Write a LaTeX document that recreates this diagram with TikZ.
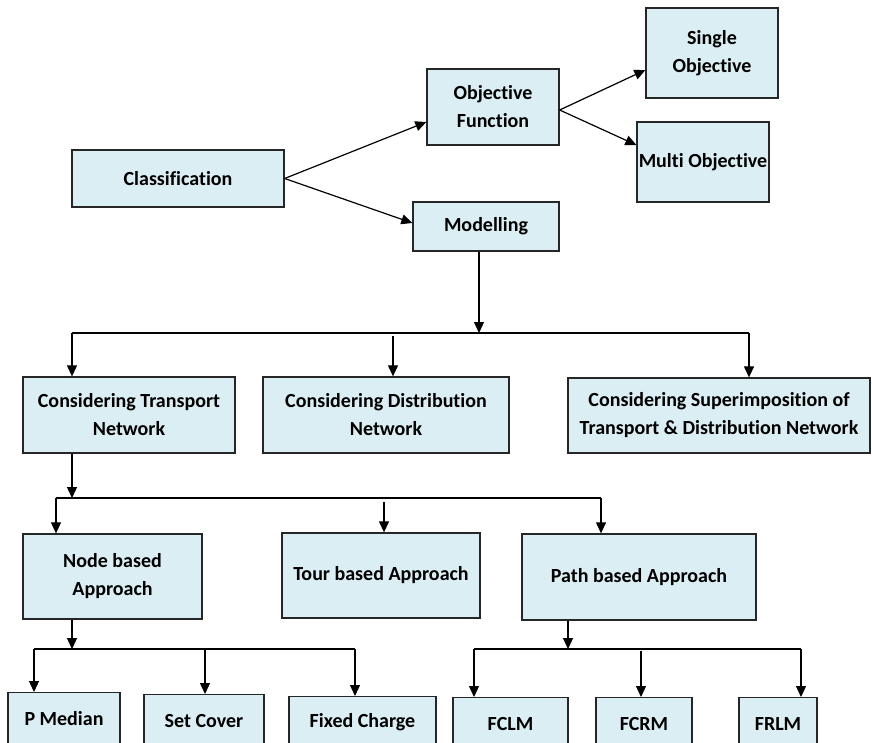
\documentclass[tikz,border=0pt]{standalone}
\usepackage{fontspec}
\setmainfont[Ligatures=NoCommon]{Carlito}
\usetikzlibrary{arrows.meta}
\definecolor{boxblue}{HTML}{DAEEF3}
\begin{document}
\begin{tikzpicture}[x=1pt,y=-1pt]
			\tikzstyle{box}=[rectangle,draw=black!85,line width=1.3pt,fill=boxblue,align=center,inner sep=0pt,font=\bfseries\fontsize{20}{28}\selectfont]
			\tikzstyle{arr}=[line width=1.2pt,-{Triangle[length=11pt,width=10pt]}]
			\clip (0,0) rectangle (872,742);
			\begin{scope}
			\node[box,minimum width=212pt,minimum height=57pt] (cls) at (178,178.5) {Classification};
			\node[box,minimum width=132pt,minimum height=76pt] (obj) at (493,107)   {Objective\\Function};
			\node[box,minimum width=146pt,minimum height=49pt] (mod) at (486,226.5) {Modelling};
			\node[box,minimum width=132pt,minimum height=90pt] (sgl) at (712,53)    {Single\\Objective};
			\node[box,minimum width=132pt,minimum height=80pt] (mul) at (703,162)   {Multi Objective};
			
			\node[box,minimum width=212pt,minimum height=76pt] (ctn) at (129,415)   {Considering Transport\\Network};
			\node[box,minimum width=246pt,minimum height=76pt] (cdn) at (386,415)   {Considering Distribution\\Network};
			\node[box,minimum width=302pt,minimum height=75pt] (csn) at (719,415.5) {Considering Superimposition of\\Transport \& Distribution Network};
			
			\node[box,minimum width=179pt,minimum height=85pt] (nba) at (112.5,576.5) {Node based\\Approach};
			\node[box,minimum width=198pt,minimum height=85pt] (tba) at (381,575.5)   {Tour based Approach};
			\node[box,minimum width=234pt,minimum height=86pt] (pba) at (639,577)     {Path based Approach};
			
			\node[box,anchor=north,minimum width=112pt,minimum height=52pt] (pm)   at (64,692)    {P Median};
			\node[box,anchor=north,minimum width=120pt,minimum height=52pt] (sc)   at (204,694)   {Set Cover};
			\node[box,anchor=north,minimum width=147pt,minimum height=52pt] (fc)   at (362.5,696) {Fixed Charge};
			\node[box,anchor=north,minimum width=115pt,minimum height=52pt] (fclm) at (510.5,697) {FCLM};
			\node[box,anchor=north,minimum width=96pt,minimum height=52pt]  (fcrm) at (644,697)   {FCRM};
			\node[box,anchor=north,minimum width=78pt,minimum height=52pt]  (frlm) at (778,697)   {FRLM};
			\end{scope}
			
			\coordinate (m0) at (479,333);
			\coordinate (m1) at (72,333);
			\coordinate (m2) at (393,333);
			\coordinate (m3) at (749,333);
			\coordinate (t0) at (72,498);
			\coordinate (t1) at (56,498);
			\coordinate (t2) at (384,498);
			\coordinate (t3) at (601,498);
			\coordinate (n0) at (72,649);
			\coordinate (n1) at (34,649);
			\coordinate (n2) at (205,649);
			\coordinate (n3) at (355,649);
			\coordinate (p0) at (568,649);
			\coordinate (p1) at (474,649);
			\coordinate (p2) at (641,649);
			\coordinate (p3) at (801,649);
			
			\path[arr]
			(cls.east) edge ([yshift=-15pt]obj.west)
			(cls.east) edge ([yshift=3.5pt]mod.west)
			([yshift=-3pt]obj.east) edge ([yshift=-17pt]sgl.west)
			([yshift=-3pt]obj.east) edge ([yshift=17pt]mul.west)
			([xshift=-7pt]mod.south) edge (m0)
			
			(m1) edge (m1 |- ctn.north)
			([yshift=-3pt]m2) edge (m2 |- cdn.north)
			(m3) edge (m3 |- csn.north)
			(t0 |- ctn.south) edge (t0)
			
			(t1) edge (t1 |- nba.north)
			([yshift=-4pt]t2) edge (t2 |- tba.north)
			(t3) edge (t3 |- pba.north)
			(n0 |- nba.south) edge (n0)
			(p0 |- pba.south) edge (p0)
			
			(n1) edge (n1 |- pm.north)
			(n2) edge (n2 |- sc.north)
			(n3) edge (n3 |- fc.north)
			(p1) edge (p1 |- fclm.north)
			([yshift=-2pt]p2) edge (p2 |- fcrm.north)
			(p3) edge (p3 |- frlm.north)
			;
			
			\path[draw,line width=1.2pt]
			(m1) -- (m3)
			(t1) -- (t3)
			(n1) -- (n3)
			(p1) -- (p3)
			;
		\end{tikzpicture}
\end{document}
